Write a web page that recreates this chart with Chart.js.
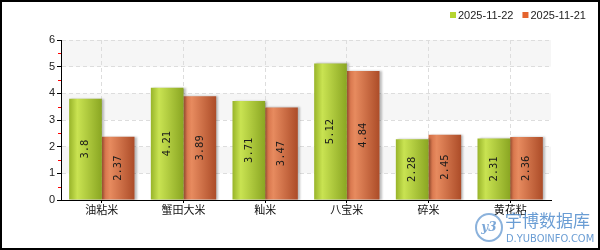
<!DOCTYPE html>
<html>
<head>
    <title>大米价格对比</title>
    <script src="https://cdn.jsdelivr.net/npm/chart.js@4.4.1/dist/chart.umd.min.js"></script>
    <style>
        body {
            margin: 0;
            padding: 0;
            background: #fff;
            font-family: "Liberation Sans", Arial, sans-serif;
        }
        .wrap {
            position: relative;
            width: 600px;
            height: 250px;
        }
        .logo {
            position: absolute;
            left: 475px;
            top: 213px;
            width: 24px;
            height: 25px;
            border: 2px solid rgba(90, 145, 205, 0.7);
            border-radius: 50%;
            color: rgba(90, 145, 205, 0.8);
            font: italic bold 12px "DejaVu Serif", serif;
            line-height: 25px;
            text-align: center;
        }
        .mark {
            position: absolute;
            left: 505px;
            top: 209px;
            color: rgba(80, 140, 205, 0.85);
            font: 17px "Noto Sans CJK SC", sans-serif;
            line-height: 22px;
        }
        .site {
            position: absolute;
            left: 506px;
            top: 233px;
            color: rgba(80, 140, 205, 0.85);
            font: 11px "DejaVu Sans Condensed", "DejaVu Sans", sans-serif;
            line-height: 12px;
        }
    </style>
</head>
<body>
<div class="wrap">
    <canvas id="riceChart" width="600" height="250"></canvas>
    <div class="logo">y3</div>
    <div class="mark">宇博数据库</div>
    <div class="site">D.YUBOINFO.COM</div>
</div>
<script>
    // data
    const categories = ['油粘米', '蟹田大米', '籼米', '八宝米', '碎米', '黄花粘'];
    const seriesNames = ['2025-11-22', '2025-11-21'];
    const prices1122 = [3.8, 4.21, 3.71, 5.12, 2.28, 2.31];
    const prices1121 = [2.37, 3.89, 3.47, 4.84, 2.45, 2.36];
    const yTicks = [0, 1, 2, 3, 4, 5, 6];

    const legendColors = ['#b5d530', '#e4632d'];
    const gradStops = [
        [[0, '#98b42a'], [0.25, '#c9e352'], [1, '#8aa622']],
        [[0, '#cf6a42'], [0.25, '#e78b5f'], [1, '#ac4c28']]
    ];
    const CAT_PCT = 0.8;

    function barFill(c) {
        if (c.type !== 'data') return legendColors[c.datasetIndex];
        const xs = c.chart.scales.x;
        if (!xs || xs.right === xs.left) return legendColors[c.datasetIndex];
        const cw = (xs.right - xs.left) / categories.length;
        const cx = xs.getPixelForValue(c.dataIndex);
        const bw = cw * CAT_PCT / 2;
        const left = c.datasetIndex === 0 ? cx - bw : cx;
        const g = c.chart.ctx.createLinearGradient(left, 0, left + bw, 0);
        gradStops[c.datasetIndex].forEach(s => g.addColorStop(s[0], s[1]));
        return g;
    }

    // bands, red minor ticks, labels, legend and frame
    const decor = {
        id: 'decor',
        beforeDraw(chart) {
            const {ctx, chartArea: a, scales: {y}} = chart;
            ctx.save();
            ctx.fillStyle = '#f6f6f6';
            for (let v = 1; v < 6; v += 2) {
                const top = y.getPixelForValue(v + 1);
                const bot = y.getPixelForValue(v);
                ctx.fillRect(a.left, top, a.right - a.left, bot - top);
            }
            ctx.restore();
        },
        beforeDatasetsDraw(chart) {
            const ctx = chart.ctx;
            ctx.save();
            ctx.shadowColor = 'rgba(0,0,0,0.25)';
            ctx.shadowOffsetX = 2;
            ctx.shadowOffsetY = 0;
            ctx.shadowBlur = 2;
        },
        afterDatasetsDraw(chart) {
            const ctx = chart.ctx;
            ctx.restore();
            ctx.save();
            ctx.font = '10.5px "DejaVu Sans Mono", monospace';
            ctx.fillStyle = '#1a1a1a';
            ctx.textAlign = 'center';
            ctx.textBaseline = 'middle';
            chart.data.datasets.forEach((ds, i) => {
                chart.getDatasetMeta(i).data.forEach((el, j) => {
                    ctx.save();
                    ctx.translate(el.x, (el.y + el.base) / 2);
                    ctx.rotate(-Math.PI / 2);
                    ctx.fillText(String(ds.data[j]), 0, 0);
                    ctx.restore();
                });
            });
            ctx.restore();
        },
        afterDraw(chart) {
            const {ctx, chartArea: a, scales: {y}} = chart;
            ctx.save();
            // red minor ticks at the half steps
            ctx.fillStyle = '#ff0000';
            for (let v = 0.5; v < 6; v += 1) {
                const py = Math.round(y.getPixelForValue(v));
                ctx.fillRect(Math.round(a.left) - 3, py, 3, 1);
            }
            // legend
            ctx.font = '11px "Liberation Sans", Arial, sans-serif';
            ctx.textBaseline = 'middle';
            let lx = 450;
            seriesNames.forEach((name, i) => {
                ctx.fillStyle = legendColors[i];
                ctx.fillRect(lx, 12, 6, 6);
                ctx.fillStyle = '#222';
                ctx.fillText(name, lx + 8, 15.5);
                lx += 8 + ctx.measureText(name).width + 9;
            });
            // frame
            ctx.strokeStyle = '#000';
            ctx.lineWidth = 2;
            ctx.strokeRect(1, 1, 598, 248);
            ctx.restore();
        }
    };

    const ctx = document.getElementById('riceChart').getContext('2d');
    const riceChart = new Chart(ctx, {
        type: 'bar',
        data: {
            labels: categories,
            datasets: [
                {label: seriesNames[0], data: prices1122, backgroundColor: barFill},
                {label: seriesNames[1], data: prices1121, backgroundColor: barFill}
            ]
        },
        options: {
            responsive: false,
            animation: false,
            events: [],
            layout: {padding: {left: 0, top: 40, right: 49, bottom: 0}},
            datasets: {bar: {categoryPercentage: CAT_PCT, barPercentage: 1.0, borderWidth: 0}},
            plugins: {legend: {display: false}, tooltip: {enabled: false}},
            scales: {
                x: {
                    afterFit(s) { s.height = 50; },
                    grid: {
                        offset: false,
                        color: '#dddddd',
                        tickColor: '#000',
                        tickLength: 3,
                        tickBorderDash: []
                    },
                    border: {color: '#000', width: 1, dash: [4, 3]},
                    ticks: {
                        padding: 0,
                        color: '#111',
                        font: {family: '"Noto Sans CJK SC", sans-serif', size: 11}
                    }
                },
                y: {
                    min: yTicks[0],
                    max: yTicks[yTicks.length - 1],
                    afterFit(s) { s.width = 61; },
                    afterBuildTicks(s) { s.ticks = yTicks.map(v => ({value: v})); },
                    grid: {
                        color: '#dddddd',
                        tickColor: '#000',
                        tickLength: 4,
                        tickBorderDash: []
                    },
                    border: {color: '#000', width: 1, dash: [4, 3]},
                    ticks: {
                        padding: 2,
                        color: '#222',
                        font: {family: '"Liberation Sans", Arial, sans-serif', size: 11}
                    }
                }
            }
        },
        plugins: [decor]
    });
</script>
</body>
</html>
